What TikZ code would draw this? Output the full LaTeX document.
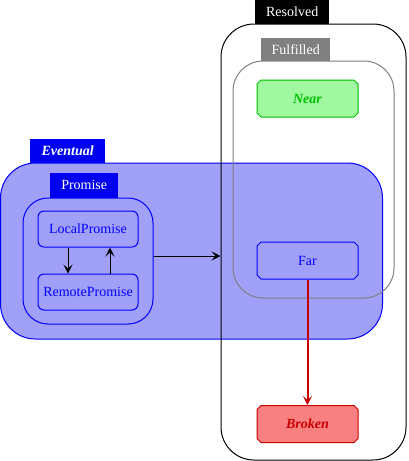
\documentclass[tikz,border=0pt]{standalone}
\usepackage{fontspec}
\setmainfont{Liberation Serif}
\usetikzlibrary{arrows.meta,shapes.misc,calc}
\definecolor{evfill}{RGB}{160,160,248}
\definecolor{evline}{RGB}{0,0,255}
\definecolor{tabblue}{RGB}{0,0,240}
\definecolor{nearfill}{RGB}{160,248,160}
\definecolor{nearline}{RGB}{0,192,0}
\definecolor{brokenfill}{RGB}{248,128,128}
\definecolor{brokenline}{RGB}{200,0,0}
\definecolor{fulgray}{RGB}{128,128,128}
\begin{document}
\begin{tikzpicture}[x=1pt,y=-1pt,font=\fontsize{14}{16}\selectfont,
  region/.style={draw,line width=1pt,rectangle,inner sep=0pt},
  tab/.style={rectangle,inner sep=0pt,text=white,anchor=south west},
  state/.style={chamfered rectangle,chamfered rectangle xsep=2pt,chamfered rectangle ysep=2pt,draw,line width=1pt,minimum width=101pt,minimum height=37pt,inner sep=0pt},
  sub/.style={rectangle,rounded corners=6pt,draw=evline,line width=1pt,text=evline,minimum width=100pt,minimum height=36pt,inner sep=0pt},
  arr/.style={-{Stealth[length=9pt,width=9pt,inset=4pt]},line width=1pt}]
\useasboundingbox (0,0) rectangle (408,461);
% regions
\node[region,fill=evfill,draw=evline,rounded corners=35pt,minimum width=382pt,minimum height=176pt] (Eventual) at (191.5,251) {};
\node[region,draw=black,rounded corners=33pt,minimum width=185pt,minimum height=436pt] (Resolved) at (313.5,242) {};
\node[region,draw=fulgray,rounded corners=30pt,minimum width=161pt,minimum height=237pt] (Fulfilled) at (313.5,179.5) {};
\node[region,draw=evline,rounded corners=25pt,minimum width=130pt,minimum height=126pt] (Promise) at (88,261) {};
% tabs
\node[tab,fill=tabblue,minimum width=75pt,minimum height=24pt,font=\fontsize{14}{16}\selectfont\bfseries\itshape] (EventualTab) at (30,163) {Eventual};
\node[tab,fill=black,minimum width=74pt,minimum height=24pt] (ResolvedTab) at (255,24) {Resolved};
\node[tab,fill=fulgray,minimum width=69pt,minimum height=23pt] (FulfilledTab) at (261,61) {Fulfilled};
\node[tab,fill=tabblue,minimum width=68pt,minimum height=25pt] (PromiseTab) at (50,198) {Promise};
% states
\node[state,fill=nearfill,draw=nearline,text=nearline,font=\fontsize{14}{16}\selectfont\bfseries\itshape] (Near) at (307.5,98.5) {Near};
\node[state,draw=evline,text=evline] (Far) at (307.5,260.5) {Far};
\node[state,fill=brokenfill,draw=brokenline,text=brokenline,font=\fontsize{14}{16}\selectfont\bfseries\itshape] (Broken) at (307.5,424) {Broken};
\node[sub] (LP) at (88,229) {LocalPromise};
\node[sub] (RP) at (88,292) {RemotePromise};
% arrows
\draw[arr] ([xshift=-20pt]LP.south) -- ([xshift=-20pt]RP.north);
\draw[arr] ([xshift=22pt]RP.north) -- ([xshift=22pt]LP.south);
\draw[arr] ([yshift=5pt]Promise.east) -- ([yshift=5pt]Promise.east -| Resolved.west);
\draw[arr,draw=brokenline,fill=brokenline,line width=2pt] (Far.south) -- (Broken.north);
\end{tikzpicture}
\end{document}
